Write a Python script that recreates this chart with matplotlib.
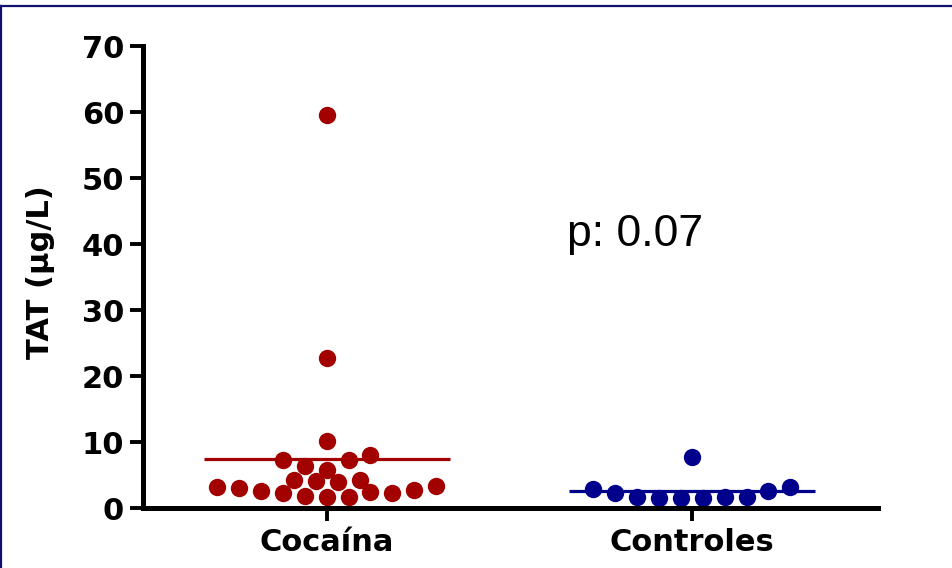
import numpy as np
import matplotlib
matplotlib.use("Agg")
import matplotlib.pyplot as plt
from matplotlib.lines import Line2D

# ---- data ----
categories = ["Cocaína", "Controles"]
# values listed left-to-right within each horizontal row of the dot plot
cocaina = [3.2, 3.0, 2.6, 2.3, 1.8, 1.6, 1.6, 2.5, 2.2, 2.7, 3.3,
           4.3, 4.1, 4.0, 4.3,
           7.2, 6.4, 5.8, 7.2, 8.1,
           10.2, 22.8, 59.5]
controles = [2.9, 2.2, 1.6, 1.5, 1.5, 1.5, 1.6, 1.6, 2.6, 3.2,
             7.8]
groups = [cocaina, controles]
colors = ["#A30000", "#00008C"]
y_ticks = [0, 10, 20, 30, 40, 50, 60, 70]
p_text = "p: 0.07"

# ---- layout parameters ----
ROW_EDGES = [3.7, 5.5, 9.0, 16.0, 40.0]   # value bands that share one row
DOT_SPACING = 0.06                         # horizontal spacing (x units)
MEAN_HALF = 0.337

plt.rcParams['font.family'] = ['DejaVu Sans']

fig = plt.figure(figsize=(9.52, 5.68), dpi=100)
ax = fig.add_axes([143/952, 60/568, 735/952, 462/568])

for gi, (vals, col) in enumerate(zip(groups, colors)):
    vals = np.asarray(vals)
    rows = np.digitize(vals, ROW_EDGES)
    xs = np.zeros(len(vals))
    for r in np.unique(rows):
        idx = np.where(rows == r)[0]
        n = len(idx)
        offs = (np.arange(n) - (n - 1) / 2) * DOT_SPACING
        xs[idx] = gi + offs
    ax.plot(xs, vals, 'o', color=col, markersize=12.5, markeredgewidth=0,
            zorder=3)
    m = vals.mean()
    ax.plot([gi - MEAN_HALF, gi + MEAN_HALF], [m, m], color=col, lw=2.3,
            solid_capstyle='butt', zorder=2)

ax.set_xlim(-0.503, 1.51)
ax.set_ylim(0, 70)
ax.set_yticks(y_ticks)
ax.set_xticks(range(len(categories)))
ax.set_xticklabels(categories)
for s in ['top', 'right']:
    ax.spines[s].set_visible(False)
for s in ['left', 'bottom']:
    ax.spines[s].set_linewidth(3.6)
    ax.spines[s].set_zorder(5)
ax.tick_params(axis='both', direction='out', length=9.5, width=2.8,
               labelsize=22)
ax.tick_params(axis='y', pad=4)
ax.tick_params(axis='x', pad=5)
for lab in ax.get_xticklabels() + ax.get_yticklabels():
    lab.set_fontweight('bold')
ax.set_ylabel("TAT (µg/L)", fontsize=22, fontweight='bold')
ax.yaxis.set_label_coords((55 - 143) / 735, 0.51)

ax.text(0.658, 39.7, p_text, fontsize=32, ha='left', va='baseline',
        family=['Liberation Sans', 'DejaVu Sans'])

# figure border (top and left edges)
fig.add_artist(Line2D([0, 1], [1 - 5.5/568, 1 - 5.5/568],
                      transform=fig.transFigure, color='#101070', lw=1.6))
fig.add_artist(Line2D([1/952, 1/952], [0, 1 - 5.5/568],
                      transform=fig.transFigure, color='#101070', lw=1.6))

fig.savefig("out.png", dpi=100)
